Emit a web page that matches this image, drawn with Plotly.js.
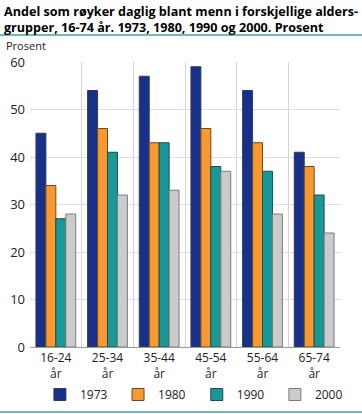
<!DOCTYPE html>
<html>
<head>
<meta charset="utf-8">
<script src="https://cdn.plot.ly/plotly-3.0.1.min.js"></script>
<style>html,body{margin:0;padding:0;background:#fff;}#chart{width:362px;height:414px;}</style>
</head>
<body>
<div id="chart"></div>
<script>
const categories = ["16-24<br>år", "25-34<br>år", "35-44<br>år", "45-54<br>år", "55-64<br>år", "65-74<br>år"];
const seriesNames = ["1973", "1980", "1990", "2000"];
const v1973 = [45, 54, 57, 59, 54, 41];
const v1980 = [34, 46, 43, 46, 43, 38];
const v1990 = [27, 41, 43, 38, 37, 32];
const v2000 = [28, 32, 33, 37, 28, 24];
const yTicks = [0, 10, 20, 30, 40, 50, 60];
const titleText = "<b>Andel som røyker daglig blant menn i forskjellige alders-<br>grupper, 16-74 år. 1973, 1980, 1990 og 2000. Prosent</b>";

const values = [v1973, v1980, v1990, v2000];
const colors = ["#17318b", "#f7992f", "#189897", "#cbcbcb"];
const lineColors = ["#333a55", "#6b4a20", "#1d4d4d", "#7a7a7a"];
const legendIds = ["legend", "legend2", "legend3", "legend4"];
const legendX = [0.032, 0.284, 0.538, 0.790];

const traces = seriesNames.map((n, i) => ({
  type: "bar",
  name: n,
  x: categories,
  y: values[i],
  legend: legendIds[i],
  marker: {color: colors[i], line: {color: lineColors[i], width: 1}},
  hoverinfo: "skip"
}));

const font = "'Open Sans', 'Noto Sans', sans-serif";
const H = 285;
const layout = {
  width: 362, height: 414,
  margin: {l: 30, r: 22, t: 62, b: 67, autoexpand: false},
  paper_bgcolor: "#fff", plot_bgcolor: "#fff",
  font: {family: font, size: 12, color: "#222"},
  barmode: "group",
  bargap: 0.23,
  bargroupgap: 0,
  xaxis: {
    type: "category",
    tickson: "boundaries",
    showgrid: true, gridcolor: "#d4d4d4", gridwidth: 1,
    ticks: "", showline: true, linecolor: "#999", linewidth: 1,
    tickfont: {family: font, size: 12, color: "#222"},
    fixedrange: true
  },
  yaxis: {
    range: [0, 60],
    tickvals: yTicks,
    showgrid: true, gridcolor: "#dedede", gridwidth: 1,
    zeroline: false, showline: false, ticks: "",
    tickfont: {family: font, size: 13, color: "#222"},
    ticklabelstandoff: 4,
    fixedrange: true
  },
  annotations: [
    {
      text: titleText, xref: "paper", yref: "paper", x: 0, xanchor: "left", xshift: -28,
      y: 1, yanchor: "top", yshift: 61, showarrow: false, align: "left",
      font: {family: font, size: 12.6, color: "#000"}
    },
    {
      text: "Prosent", xref: "paper", yref: "paper", x: 0, xanchor: "left",
      xshift: -26, y: 1, yanchor: "bottom", yshift: 7, showarrow: false,
      font: {family: font, size: 11, color: "#222"}
    }
  ],
  shapes: [
    {type: "line", xref: "paper", yref: "paper", x0: -0.1, x1: 1.1, y0: 1 + 27 / H, y1: 1 + 27 / H, line: {color: "#6bbdb5", width: 2}},
    {type: "line", xref: "paper", yref: "paper", x0: -0.1, x1: 1.1, y0: -65 / H, y1: -65 / H, line: {color: "#6bbdb5", width: 2}}
  ],
  showlegend: true
};
legendIds.forEach((id, i) => {
  layout[id] = {
    orientation: "h", x: legendX[i], xanchor: "left", y: -33 / H, yanchor: "top",
    font: {family: font, size: 12, color: "#222"},
    bgcolor: "rgba(0,0,0,0)"
  };
});

Plotly.newPlot("chart", traces, layout, {displayModeBar: false, staticPlot: true});
</script>
</body>
</html>
